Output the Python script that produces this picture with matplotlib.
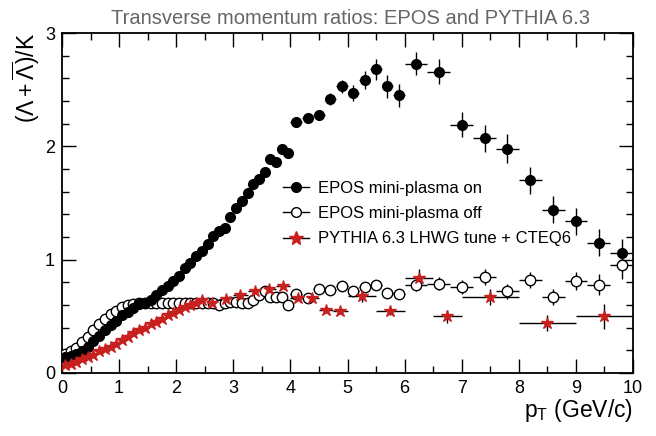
import numpy as np
import matplotlib
matplotlib.use('Agg')
import matplotlib.pyplot as plt
from matplotlib.lines import Line2D
from matplotlib.ticker import MultipleLocator

plt.rcParams['font.family'] = ['Liberation Sans', 'DejaVu Sans']
plt.rcParams['mathtext.fontset'] = 'custom'
plt.rcParams['mathtext.rm'] = 'Liberation Sans'
plt.rcParams['mathtext.it'] = 'Liberation Sans'

# EPOS mini-plasma on (filled circles)
pt_on_fine = [0.05, 0.15, 0.25, 0.35, 0.45, 0.55, 0.65, 0.75, 0.85, 0.95,
              1.05, 1.15, 1.25, 1.35, 1.45, 1.55, 1.65, 1.75, 1.85, 1.95,
              2.05, 2.15, 2.25, 2.35, 2.45, 2.55, 2.65, 2.75, 2.85, 2.95,
              3.05, 3.15, 3.25, 3.35, 3.45, 3.55, 3.65, 3.75, 3.85, 3.95]
on_fine = [0.14, 0.15, 0.17, 0.19, 0.23, 0.28, 0.33, 0.38, 0.42, 0.46,
           0.51, 0.54, 0.57, 0.61, 0.62, 0.64, 0.69, 0.73, 0.77, 0.81,
           0.86, 0.93, 0.97, 1.03, 1.08, 1.14, 1.21, 1.25, 1.28, 1.38,
           1.46, 1.52, 1.59, 1.67, 1.71, 1.77, 1.89, 1.86, 1.98, 1.94]
pt_mid = [4.1, 4.3, 4.5, 4.7, 4.9, 5.1, 5.3, 5.5, 5.7, 5.9]
on_mid = [2.22, 2.25, 2.28, 2.42, 2.53, 2.47, 2.59, 2.68, 2.53, 2.45]
on_mid_err = [0.02, 0.03, 0.04, 0.05, 0.06, 0.07, 0.08, 0.09, 0.10, 0.10]
pt_high = [6.2, 6.6, 7.0, 7.4, 7.8, 8.2, 8.6, 9.0, 9.4, 9.8]
on_high = [2.73, 2.66, 2.19, 2.07, 1.98, 1.70, 1.44, 1.34, 1.15, 1.06]
on_high_err = [0.10, 0.11, 0.11, 0.12, 0.13, 0.12, 0.12, 0.12, 0.12, 0.12]

# EPOS mini-plasma off (open circles)
off_fine = [0.17, 0.19, 0.22, 0.27, 0.32, 0.38, 0.43, 0.48, 0.52, 0.55,
            0.58, 0.60, 0.61, 0.62, 0.62, 0.62, 0.62, 0.62, 0.62, 0.62,
            0.62, 0.62, 0.62, 0.62, 0.62, 0.62, 0.62, 0.60, 0.62, 0.63,
            0.63, 0.62, 0.62, 0.64, 0.69, 0.72, 0.67, 0.67, 0.67, 0.60]
off_mid = [0.70, 0.66, 0.74, 0.73, 0.77, 0.72, 0.76, 0.78, 0.71, 0.70]
off_mid_err = [0.02, 0.02, 0.03, 0.03, 0.03, 0.03, 0.04, 0.04, 0.04, 0.04]
off_high = [0.78, 0.79, 0.76, 0.85, 0.72, 0.82, 0.67, 0.81, 0.78, 0.95]
off_high_err = [0.06, 0.06, 0.06, 0.07, 0.07, 0.07, 0.07, 0.08, 0.09, 0.12]

# PYTHIA 6.3 (red stars)
pt_py_fine = [0.05, 0.15, 0.25, 0.35, 0.45, 0.55, 0.65, 0.75, 0.85, 0.95,
              1.05, 1.15, 1.25, 1.35, 1.45, 1.55, 1.65, 1.75, 1.85, 1.95,
              2.05, 2.15, 2.25, 2.35, 2.45]
py_fine = [0.07, 0.08, 0.10, 0.12, 0.14, 0.16, 0.19, 0.21, 0.23, 0.26,
           0.29, 0.32, 0.35, 0.38, 0.40, 0.43, 0.45, 0.48, 0.51, 0.53,
           0.56, 0.585, 0.60, 0.62, 0.64]
pt_py_mid = [2.625, 2.875, 3.125, 3.375, 3.625, 3.875, 4.125, 4.375, 4.625, 4.875]
py_mid = [0.62, 0.65, 0.69, 0.72, 0.74, 0.77, 0.66, 0.665, 0.56, 0.55]
py_mid_err = [0.01, 0.01, 0.01, 0.01, 0.02, 0.02, 0.02, 0.02, 0.03, 0.03]
pt_py_half = [5.25, 5.75, 6.25, 6.75]
py_half = [0.68, 0.55, 0.84, 0.50]
py_half_err = [0.05, 0.04, 0.08, 0.06]
pt_py_wide = [7.5, 8.5, 9.5]
py_wide = [0.67, 0.44, 0.50]
py_wide_err = [0.07, 0.07, 0.11]

red = '#c8201e'

fig = plt.figure(figsize=(6.56, 4.36), dpi=100)
ax = fig.add_axes([0.0945, 0.1445, 0.8705, 0.7795])

eb = dict(fmt='none', ecolor='black', elinewidth=1.0, capsize=0, zorder=2)

# error bars
ax.errorbar(pt_mid, on_mid, yerr=on_mid_err, xerr=0.1, **eb)
ax.errorbar(pt_high, on_high, yerr=on_high_err, xerr=0.2, **eb)
ax.errorbar(pt_mid, off_mid, yerr=off_mid_err, xerr=0.1, **eb)
ax.errorbar(pt_high, off_high, yerr=off_high_err, xerr=0.2, **eb)
ax.errorbar(pt_py_mid, py_mid, yerr=py_mid_err, xerr=0.125, **eb)
ax.errorbar(pt_py_half, py_half, yerr=py_half_err, xerr=0.25, **eb)
ax.errorbar(pt_py_wide, py_wide, yerr=py_wide_err, xerr=0.5, **eb)

# markers
pt_on = pt_on_fine + pt_mid + pt_high
ax.plot(pt_on, on_fine + on_mid + on_high, 'o', color='black', ms=7, zorder=4)
ax.plot(pt_on, off_fine + off_mid + off_high, 'o', mfc='white', mec='black',
        mew=1.0, ms=7.5, zorder=3)
ax.plot(pt_py_fine + pt_py_mid + pt_py_half + pt_py_wide,
        py_fine + py_mid + py_half + py_wide, '*', color=red, mec=red,
        ms=9, zorder=5)

ax.set_xlim(0, 10)
ax.set_ylim(0, 3)
ax.xaxis.set_major_locator(MultipleLocator(1))
ax.xaxis.set_minor_locator(MultipleLocator(0.5))
ax.yaxis.set_major_locator(MultipleLocator(1))
ax.yaxis.set_minor_locator(MultipleLocator(0.2))
ax.tick_params(which='both', direction='in', top=True, right=True,
               labelsize=13, width=1.0)
ax.tick_params(which='major', length=10, pad=5)
ax.tick_params(which='minor', length=5)
for s in ax.spines.values():
    s.set_linewidth(1.3)

ax.set_xlabel(r'$\mathregular{p_T}$ (GeV/c)', fontsize=16.5, loc='right', labelpad=0)
ax.set_ylabel(r'$(\Lambda+\overline{\Lambda})/\mathregular{K}$', fontsize=16.5,
              loc='top', labelpad=2)
fig.text(0.535, 0.958, 'Transverse momentum ratios: EPOS and PYTHIA 6.3',
         ha='center', va='center', fontsize=14.5, color='#666666')

handles = [
    Line2D([], [], color='black', lw=1, marker='o', ms=7),
    Line2D([], [], color='black', lw=1, marker='o', mfc='white', ms=7),
    Line2D([], [], color='black', lw=1, marker='*', mfc=red, mec=red, ms=10),
]
labels = ['EPOS mini-plasma on', 'EPOS mini-plasma off',
          'PYTHIA 6.3 LHWG tune + CTEQ6']
ax.legend(handles, labels, loc='upper left', bbox_to_anchor=(0.36, 0.61),
          frameon=False, fontsize=12, handlelength=1.6, handletextpad=0.5,
          labelspacing=0.62)

fig.savefig('out.png', dpi=100)
